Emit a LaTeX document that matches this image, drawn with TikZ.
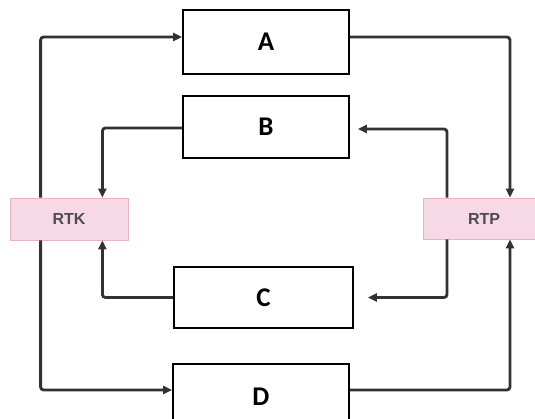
\documentclass[tikz,border=0pt]{standalone}
\usepackage{fontspec}
\usetikzlibrary{arrows.meta}
\newfontfamily\boxfont{Carlito}
\newfontfamily\tagfont{Liberation Sans}
\definecolor{tagpink}{RGB}{247,216,229}
\definecolor{tagedge}{RGB}{232,178,202}
\definecolor{flowgray}{RGB}{50,50,50}

\begin{document}
\begin{tikzpicture}[x=1pt,y=-1pt]
        \tikzstyle{stage}=[rectangle,draw=black,line width=1.8pt,fill=white,inner sep=0pt,font=\boxfont\fontsize{27}{30}\selectfont\bfseries]
        \tikzstyle{tag}=[rectangle,draw=tagedge,line width=0.8pt,fill=tagpink,inner sep=0pt,text=black!70,font=\tagfont\fontsize{16}{18}\selectfont\bfseries]
        \tikzstyle{flow}=[draw=flowgray,line width=2.8pt,rounded corners=3pt,-{Triangle[length=9pt,width=8pt]}]
          \clip (0,0) rectangle (535,419);
          \fill[white] (0,0) rectangle (535,419);
          % the four boxes
          \node (A) at (266,42) [stage,minimum width=166pt,minimum height=64pt] {A};
          \node (B) at (266,127) [stage,minimum width=166pt,minimum height=62pt] {B};
          \node (C) at (263.5,297.5) [stage,minimum width=179pt,minimum height=61pt] {C};
          \node (D) at (261,397) [stage,minimum width=176pt,minimum height=66pt] {D};
          % side tags
          \node (RTK) at (69,219) [tag,minimum width=118pt,minimum height=42pt] {RTK};
          \node (RTP) at (484,218.5) [tag,minimum width=122pt,minimum height=41pt] {RTP};
          % connectors
          \draw [flow] ([xshift=31pt]RTK.north west) |- ([yshift=5pt]A.west);
          \draw [flow] ([yshift=5pt]A.east) -| ([xshift=26pt]RTP.north);
          \draw [flow] ([xshift=-37pt]RTP.north) |- ([xshift=8pt,yshift=-2pt]B.east);
          \draw [flow] ([yshift=-1pt]B.west) -| ([xshift=-26pt]RTK.north east);
          \draw [flow] (C.west) -| ([xshift=-26pt]RTK.south east);
          \draw [flow] ([xshift=-37pt]RTP.south) |- ([xshift=14pt]C.east);
          \draw [flow] ([xshift=31pt]RTK.south west) |- ([yshift=7pt]D.west);
          \draw [flow] ([yshift=7pt]D.east) -| ([xshift=26pt]RTP.south);
      \end{tikzpicture}
\end{document}
